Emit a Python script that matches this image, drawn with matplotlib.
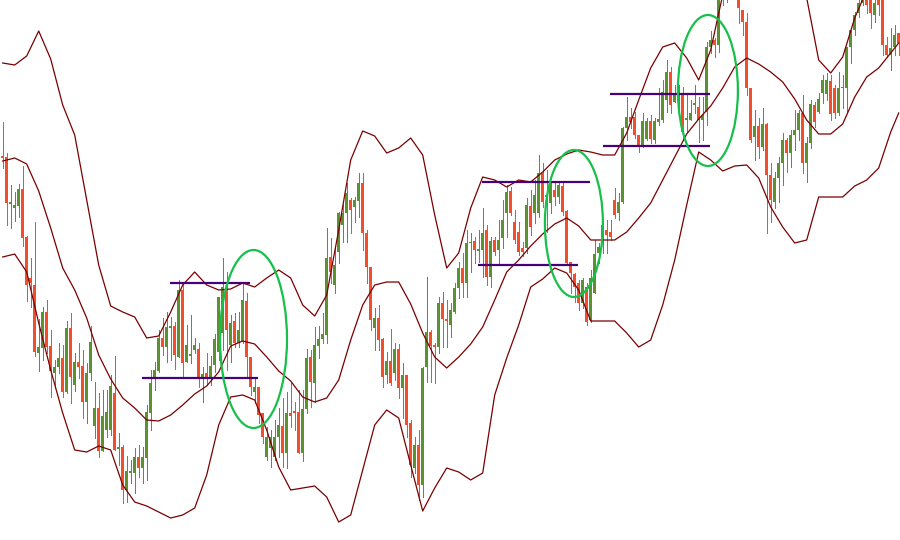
import matplotlib
matplotlib.use("Agg")
import matplotlib.pyplot as plt
from matplotlib.patches import Ellipse
import numpy as np

# candle data (price points), one entry per bar
opens = [384, 383, 336, 332, 334, 351, 303, 262, 255, 187, 192, 228, 194, 167, 173, 182, 148, 212, 155, 178,
         174, 138, 167, 114, 132, 89, 110, 110, 147, 91, 93, 50, 67, 67, 83, 72, 82, 127, 162, 169,
         202, 193, 212, 214, 183, 250, 178, 184, 190, 191, 162, 167, 163, 175, 188, 207, 253, 195, 219, 197,
         198, 239, 183, 148, 153, 127, 83, 92, 83, 103, 114, 87, 127, 129, 128, 87, 131, 183, 157, 194,
         201, 205, 283, 255, 288, 315, 327, 340, 333, 339, 357, 307, 273, 212, 222, 201, 165, 179, 167, 191,
         152, 165, 117, 72, 95, 55, 173, 208, 195, 193, 237, 221, 215, 228, 252, 272, 257, 297, 299, 289,
         290, 310, 263, 300, 290, 302, 327, 349, 318, 308, 292, 292, 334, 327, 327, 367, 345, 337, 350, 343,
         354, 329, 278, 266, 257, 237, 253, 220, 247, 287, 303, 310, 308, 340, 327, 338, 412, 423, 423, 405,
         395, 401, 419, 400, 418, 420, 440, 468, 438, 440, 445, 420, 420, 435, 433, 420, 428, 493, 500, 495,
         550, 565, 570, 580, 555, 530, 518, 452, 403, 414, 393, 416, 365, 338, 362, 377, 400, 387, 405, 410,
         427, 377, 397, 435, 428, 447, 446, 459, 452, 427, 452, 452, 493, 510, 527, 537, 545, 543, 525, 545,
         542, 495, 485, 493, 507]
closes = [382, 337, 338, 335, 351, 302, 255, 257, 188, 193, 228, 193, 169, 173, 182, 148, 212, 163, 178, 173,
          138, 167, 198, 132, 89, 124, 128, 154, 90, 93, 50, 69, 69, 83, 72, 83, 128, 157, 170, 202,
          193, 213, 214, 185, 250, 177, 195, 186, 195, 163, 166, 163, 174, 201, 243, 253, 210, 217, 197, 210,
          240, 183, 153, 153, 125, 103, 103, 103, 103, 115, 87, 127, 124, 127, 87, 131, 182, 158, 195, 201,
          206, 282, 268, 275, 327, 327, 347, 330, 340, 357, 307, 273, 220, 222, 200, 163, 179, 157, 191, 152,
          165, 115, 75, 95, 55, 172, 208, 194, 193, 237, 221, 219, 230, 252, 272, 257, 297, 298, 290, 291,
          307, 263, 299, 288, 300, 320, 348, 327, 300, 288, 288, 335, 313, 345, 367, 338, 343, 357, 343, 355,
          328, 277, 267, 253, 237, 260, 218, 262, 286, 293, 315, 305, 303, 325, 338, 412, 423, 418, 405, 393,
          419, 419, 401, 419, 421, 448, 468, 435, 445, 445, 408, 422, 427, 437, 420, 425, 493, 500, 495, 550,
          570, 565, 580, 560, 532, 518, 452, 400, 414, 393, 416, 365, 340, 362, 377, 400, 387, 405, 410, 427,
          377, 397, 436, 418, 441, 460, 460, 426, 427, 452, 453, 493, 510, 525, 537, 545, 535, 527, 537, 535,
          495, 485, 492, 505, 497]
highs = [418, 387, 355, 348, 356, 374, 304, 282, 318, 221, 233, 240, 210, 180, 197, 195, 219, 227, 187, 197,
         190, 177, 214, 158, 147, 150, 150, 165, 184, 107, 95, 84, 80, 92, 95, 93, 135, 170, 178, 210,
         222, 228, 223, 218, 260, 258, 215, 225, 202, 197, 173, 187, 184, 206, 243, 282, 268, 225, 227, 228,
         257, 247, 183, 162, 153, 127, 113, 110, 120, 132, 142, 148, 157, 138, 150, 150, 191, 190, 213, 214,
         227, 312, 302, 293, 328, 336, 357, 342, 343, 367, 367, 310, 273, 232, 235, 202, 188, 211, 197, 196,
         177, 165, 120, 103, 110, 173, 263, 210, 197, 243, 248, 240, 237, 257, 278, 287, 310, 307, 303, 310,
         332, 315, 303, 303, 320, 340, 355, 353, 330, 318, 298, 342, 350, 360, 385, 377, 370, 358, 357, 358,
         358, 330, 278, 267, 260, 262, 257, 270, 300, 297, 318, 320, 320, 352, 347, 413, 443, 432, 428, 405,
         427, 422, 425, 422, 452, 460, 480, 473, 455, 455, 453, 447, 440, 455, 443, 443, 498, 509, 502, 560,
         580, 585, 595, 590, 560, 530, 527, 452, 430, 422, 432, 417, 377, 368, 383, 407, 402, 410, 430, 430,
         445, 403, 440, 438, 447, 465, 467, 465, 455, 468, 465, 493, 510, 528, 545, 555, 555, 550, 545, 550,
         548, 503, 512, 515, 507]
lows = [372, 315, 312, 319, 323, 294, 239, 233, 184, 169, 180, 187, 143, 152, 167, 143, 147, 137, 149, 162,
        122, 117, 160, 102, 83, 89, 103, 105, 90, 75, 37, 38, 57, 47, 63, 57, 60, 110, 150, 168,
        185, 178, 180, 171, 183, 162, 178, 177, 187, 153, 138, 155, 155, 168, 180, 190, 170, 178, 193, 193,
        197, 163, 145, 137, 117, 97, 80, 73, 80, 83, 73, 72, 113, 110, 87, 79, 127, 133, 138, 182,
        197, 197, 257, 247, 277, 298, 298, 307, 318, 323, 290, 257, 210, 190, 190, 153, 157, 155, 160, 142,
        122, 103, 63, 67, 40, 43, 158, 158, 157, 187, 193, 193, 203, 227, 242, 243, 243, 268, 277, 278,
        263, 255, 253, 285, 277, 292, 303, 325, 297, 285, 284, 287, 305, 317, 323, 333, 308, 327, 335, 337,
        325, 277, 247, 238, 230, 232, 215, 218, 247, 277, 287, 287, 300, 322, 320, 337, 400, 412, 402, 388,
        393, 400, 397, 397, 415, 418, 428, 427, 438, 432, 400, 408, 420, 427, 398, 400, 415, 487, 483, 488,
        535, 538, 550, 548, 517, 505, 445, 398, 380, 382, 390, 307, 318, 332, 338, 355, 368, 373, 390, 400,
        367, 358, 392, 413, 427, 437, 440, 420, 422, 425, 432, 428, 477, 505, 523, 535, 527, 512, 518, 525,
        485, 483, 470, 485, 485]

# bollinger bands, sampled every third bar
band_idx = list(range(0, 225, 3)) + [224]
upper_band = [477, 475, 484, 509, 481, 435, 405, 340, 275, 234, 228, 223, 202, 204, 228, 255, 268, 255, 250, 251,
              257, 253, 262, 270, 262, 235, 224, 245, 310, 380, 409, 404, 387, 392, 402, 385, 325, 272, 287, 332,
              363, 360, 353, 360, 358, 368, 380, 386, 390, 388, 385, 385, 407, 440, 472, 493, 497, 482, 460, 490,
              545, 565, 575, 575, 570, 565, 555, 542, 480, 467, 483, 522, 550, 555, 550, 545]
middle_band = [379, 382, 376, 349, 312, 272, 250, 222, 185, 161, 142, 132, 120, 119, 125, 135, 146, 154, 168, 194,
               199, 196, 183, 169, 159, 143, 138, 142, 160, 200, 235, 255, 258, 258, 236, 207, 183, 172, 183, 196,
               213, 240, 268, 280, 294, 306, 316, 322, 314, 300, 300, 300, 308, 322, 337, 360, 383, 406, 421, 434,
               452, 473, 482, 476, 468, 458, 441, 420, 406, 406, 416, 443, 463, 472, 487, 497]
lower_band = [283, 286, 268, 217, 170, 127, 90, 88, 94, 90, 55, 38, 34, 28, 22, 25, 32, 65, 115, 143,
              145, 140, 110, 73, 50, 52, 54, 43, 18, 25, 70, 115, 130, 122, 75, 29, 52, 72, 68, 60,
              67, 145, 182, 215, 253, 261, 272, 267, 250, 219, 219, 219, 207, 193, 200, 235, 280, 335, 388, 380,
              369, 374, 375, 362, 333, 313, 297, 300, 343, 343, 343, 354, 360, 372, 408, 427]

# horizontal range levels: (first bar, last bar, price)
level_start = [41.8, 34.8, 119.8, 118.8, 151.8, 150.1]
level_end = [61.8, 63.8, 146.8, 143.8, 176.8, 176.8]
level_price = [257, 162, 358.5, 275, 446, 394]

# highlighted breakouts: centre bar, centre price, width in bars, height in price
circle_bar = [62.7, 142.8, 176.3]
circle_price = [201, 316.5, 449.5]
circle_w = [16.75, 14.5, 15]
circle_h = [178, 147, 151]

UP = "#5b9130"
DOWN = "#f24e2b"
BAND = "#7a0000"

fig = plt.figure(figsize=(9, 5.4), dpi=100)
ax = fig.add_axes([0, 0, 1, 1])
ax.set_axis_off()

idx = np.arange(len(closes))
o = np.array(opens)
c = np.array(closes)
cols = [UP if cc >= oo else DOWN for oo, cc in zip(o, c)]

# wicks and bodies drawn crisp, like the terminal chart
ax.vlines(idx, lows, highs, colors=cols, linewidth=0.6, antialiased=False, zorder=2)
body = np.where(np.abs(c - o) < 1.5, 1.5, c - o)
ax.bar(idx, body, bottom=o, width=0.85, color=cols, linewidth=0, antialiased=False, zorder=3)

for b in (upper_band, middle_band, lower_band):
    ax.plot(band_idx, b, color=BAND, linewidth=0.9, zorder=4)

ax.hlines(level_price, level_start, level_end, colors="#45007a", linewidth=1.6, zorder=5)

for cx, cy, w, h in zip(circle_bar, circle_price, circle_w, circle_h):
    ax.add_patch(Ellipse((cx, cy), w, h, fill=False, edgecolor="#16c04a", linewidth=1.6, zorder=6))

ax.set_xlim(-0.675, 224.325)
ax.set_ylim(0, 540)

fig.savefig("out.png", dpi=100, facecolor="white")
